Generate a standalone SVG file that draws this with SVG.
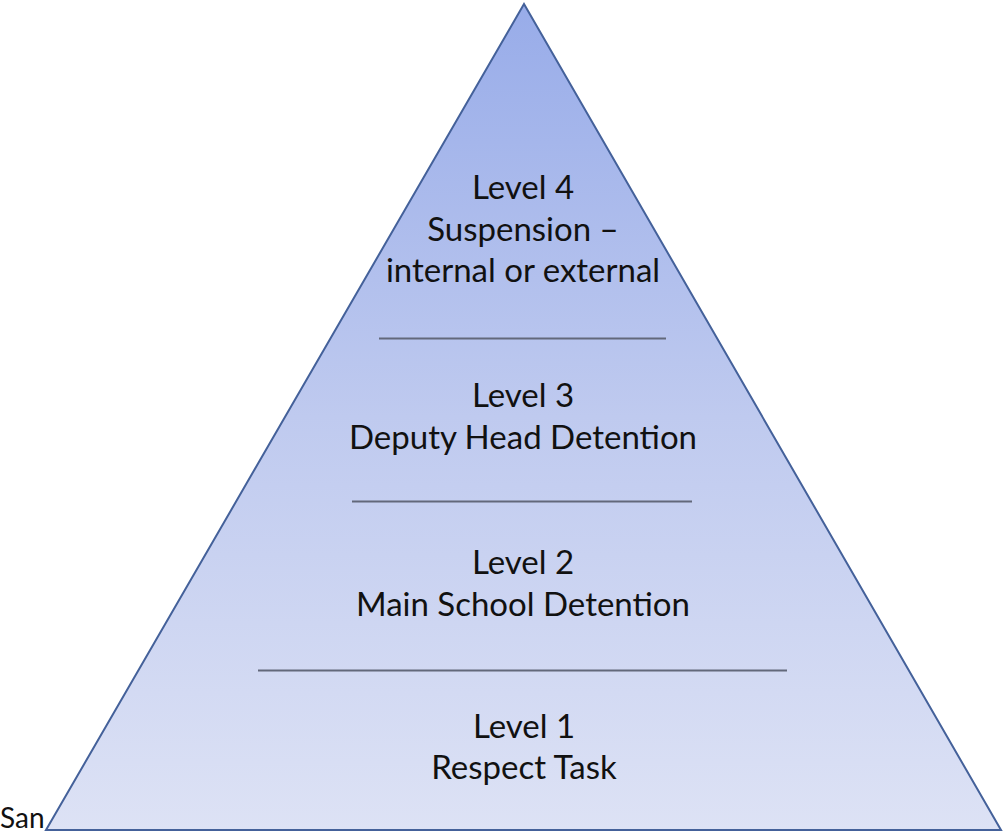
<svg xmlns="http://www.w3.org/2000/svg" width="1003" height="834" viewBox="0 0 1003 834">
  <defs>
    <linearGradient id="pyrFill" x1="0" y1="0" x2="0" y2="1">
      <stop offset="0" stop-color="#98ace9"/>
      <stop offset="0.5" stop-color="#bfcaef"/>
      <stop offset="1" stop-color="#dde2f5"/>
    </linearGradient>
  </defs>
  <style>
    .lbl { font-family: Lato, "Liberation Sans", sans-serif; font-size: 33px; fill: #111111; text-anchor: middle; }
    .div { stroke: #62687a; stroke-width: 1.8; }
  </style>
  <rect width="1003" height="834" fill="#ffffff"/>
  <g id="pyramid">
    <polygon points="524,4 46,830 1001,830" fill="url(#pyrFill)" stroke="#44619a" stroke-width="2" stroke-linejoin="miter"/>
  </g>
  <g id="dividers">
    <line class="div" x1="379" y1="338.5" x2="666" y2="338.5"/>
    <line class="div" x1="352" y1="501.5" x2="692" y2="501.5"/>
    <line class="div" x1="258" y1="670.5" x2="787" y2="670.5"/>
  </g>
  <g id="level4">
    <text class="lbl" x="523" y="199">Level 4</text>
    <text class="lbl" x="523" y="241">Suspension –</text>
    <text class="lbl" x="523" y="282">internal or external</text>
  </g>
  <g id="level3">
    <text class="lbl" x="523" y="407">Level 3</text>
    <text class="lbl" x="523" y="449">Deputy Head Detention</text>
  </g>
  <g id="level2">
    <text class="lbl" x="523" y="574">Level 2</text>
    <text class="lbl" x="523" y="616">Main School Detention</text>
  </g>
  <g id="level1">
    <text class="lbl" x="524" y="738">Level 1</text>
    <text class="lbl" x="524" y="779">Respect Task</text>
  </g>
  <text x="0" y="828" font-family="Lato, 'Liberation Sans', sans-serif" font-size="28" fill="#111111">San</text>
</svg>
